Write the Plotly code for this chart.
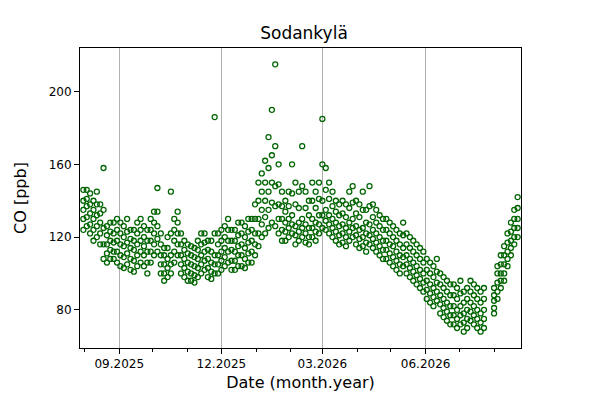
import pandas as pd
import plotly.graph_objects as go

# CO samples every 3 days starting 2025-07-31 (several readings per sample day)
start_date = "2025-07-31"
co_mid = [
    135, 137, 133, 130, 132, 128, 125, 116, 118, 117,
    118, 116, 115, 117, 114, 113, 116, 118, 115, 112,
    118, 122, 126, 110, 105, 108, 110, 118, 122, 110,
    108, 106, 105, 104, 108, 110, 112, 108, 106, 110,
    110, 112, 114, 118, 113, 112, 115, 116, 114, 117,
    118, 122, 130, 135, 140, 145, 150, 148, 138, 130,
    128, 130, 132, 126, 128, 130, 127, 125, 130, 128,
    132, 140, 135, 132, 130, 128, 126, 127, 125, 128,
    130, 126, 124, 125, 122, 127, 124, 122, 120, 118,
    118, 116, 115, 112, 110, 114, 110, 108, 106, 104,
    102, 100, 96, 94, 92, 95, 88, 86, 84, 82,
    82, 80, 82, 78, 80, 84, 82, 80, 78, 80,
    None, None, 85, 95, 100, 105, 112, 118, 125, 130,
]
co_low = [
    124, 126, 122, 118, 120, 116, 108, 106, 108, 108,
    106, 104, 103, 105, 102, 101, 104, 106, 104, 100,
    106, 110, 112, 100, 96, 98, 100, 106, 110, 100,
    98, 96, 96, 95, 98, 100, 102, 98, 97, 100,
    100, 102, 104, 106, 102, 102, 104, 104, 103, 106,
    106, 110, 115, 120, 122, 125, 128, 126, 122, 118,
    118, 120, 122, 116, 118, 120, 117, 116, 120, 118,
    122, 125, 124, 122, 120, 118, 116, 117, 115, 118,
    120, 116, 114, 115, 112, 116, 114, 112, 110, 108,
    108, 106, 104, 102, 100, 104, 100, 98, 96, 94,
    92, 90, 86, 84, 82, 85, 78, 76, 74, 72,
    72, 70, 72, 68, 70, 74, 72, 70, 68, 70,
    None, None, 78, 86, 92, 96, 104, 110, 116, 120,
]
co_high = [
    146, 146, 144, 140, 145, 138, 158, 126, 128, 128,
    130, 128, 126, 130, 124, 124, 128, 130, 126, 124,
    130, 134, 147, 122, 114, 120, 145, 130, 134, 122,
    118, 116, 115, 114, 118, 122, 122, 118, 118, 186,
    122, 124, 126, 130, 124, 124, 128, 128, 126, 130,
    130, 138, 150, 155, 162, 175, 190, 215, 160, 145,
    140, 145, 160, 150, 145, 170, 145, 140, 150, 145,
    150, 185, 158, 150, 145, 140, 138, 140, 138, 145,
    148, 140, 138, 145, 135, 148, 138, 135, 132, 130,
    130, 128, 126, 124, 122, 128, 122, 120, 118, 116,
    114, 112, 108, 106, 104, 108, 100, 98, 96, 94,
    94, 92, 96, 90, 92, 96, 94, 92, 90, 92,
    None, None, 92, 104, 110, 115, 122, 128, 135, 142,
]
co_q1 = [
    130, 131, 127, 124, 126, 122, 116, 111, 113, 112,
    112, 110, 109, 111, 108, 107, 110, 112, 110, 106,
    112, 116, 119, 105, 100, 103, 105, 112, 116, 105,
    103, 101, 100, 99, 103, 105, 107, 103, 101, 105,
    105, 107, 109, 112, 107, 107, 110, 110, 108, 111,
    112, 116, 122, 127, 131, 135, 139, 137, 130, 124,
    123, 125, 127, 121, 123, 125, 122, 120, 125, 123,
    127, 132, 129, 127, 125, 123, 121, 122, 120, 123,
    125, 121, 119, 120, 117, 121, 119, 117, 115, 113,
    113, 111, 109, 107, 105, 109, 105, 103, 101, 99,
    97, 95, 91, 89, 87, 90, 83, 81, 79, 77,
    77, 75, 77, 73, 75, 79, 77, 75, 73, 75,
    None, None, 81, 90, 96, 100, 108, 114, 120, 125,
]
co_q3 = [
    140, 141, 138, 135, 138, 133, 135, 121, 123, 122,
    124, 122, 120, 123, 119, 118, 122, 124, 120, 118,
    124, 128, 134, 116, 110, 114, 122, 124, 128, 116,
    113, 111, 110, 109, 113, 116, 117, 113, 112, 122,
    116, 118, 120, 124, 118, 118, 121, 122, 120, 123,
    124, 130, 140, 145, 150, 158, 165, 170, 149, 137,
    134, 137, 144, 138, 136, 148, 136, 132, 140, 136,
    141, 160, 146, 141, 137, 134, 132, 133, 131, 136,
    139, 133, 131, 135, 128, 137, 131, 128, 126, 124,
    124, 122, 120, 118, 116, 121, 116, 114, 112, 110,
    108, 106, 102, 100, 98, 101, 94, 92, 90, 88,
    88, 86, 89, 84, 86, 90, 88, 86, 84, 86,
    None, None, 88, 100, 105, 110, 117, 123, 130, 136,
]
tick_dates = ["2025-09-01", "2025-12-01", "2026-03-01", "2026-06-01"]
tick_labels = ["09.2025", "12.2025", "03.2026", "06.2026"]

dates = pd.date_range(start_date, periods=len(co_mid), freq="3D")

fig = go.Figure()
for vals in (co_low, co_q1, co_mid, co_q3, co_high):
    fig.add_trace(go.Scatter(
        x=dates, y=vals, mode="markers",
        marker=dict(symbol="circle-open", size=5, color="darkgreen", line=dict(width=1.3)),
        showlegend=False,
    ))

axis_common = dict(showline=True, linecolor="black", mirror=True, ticks="outside",
                   tickcolor="black", tickfont=dict(size=12, color="black"), automargin=False)
fig.update_layout(
    width=592, height=392,
    margin=dict(l=72, r=79, t=40, b=52),
    plot_bgcolor="white", paper_bgcolor="white",
    font=dict(family="DejaVu Sans", color="black"),
    title=dict(text="Sodankylä", x=0.5, y=0.936, xanchor="center", yanchor="middle", font=dict(size=17)),
    xaxis=dict(axis_common, range=["2025-07-28", "2026-08-25"],
               tickvals=tick_dates, ticktext=tick_labels,
               showgrid=True, gridcolor="#b0b0b0",
               minor=dict(dtick="M1", tick0="2025-08-01", ticks="outside", ticklen=3, tickcolor="black", showgrid=False),
               title=dict(text="Date (month.year)", font=dict(size=16), standoff=6)),
    yaxis=dict(axis_common, range=[59, 224], tickvals=[80, 120, 160, 200],
               showgrid=False, title=dict(text="CO [ppb]", font=dict(size=16), standoff=18)),
)

fig.write_html("out.html")
